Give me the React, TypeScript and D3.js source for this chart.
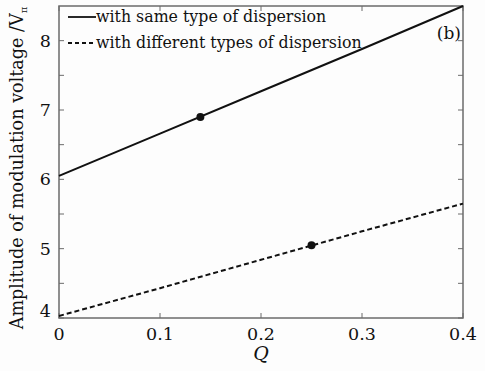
import React from 'react'
import * as d3 from 'd3'

const qValues = [0, 0.1, 0.2, 0.3, 0.4]
const sameType = [6.05, 6.66, 7.27, 7.88, 8.5]
const diffType = [4.03, 4.43, 4.84, 5.25, 5.65]
const markers = [
  {q: 0.14, v: 6.9},
  {q: 0.25, v: 5.05}
]
const xTicks = [0, 0.1, 0.2, 0.3, 0.4]
const yTicks = [4, 5, 6, 7, 8]
const yMinor = [4.5, 5.5, 6.5, 7.5]
const legendLabels = ['with same type of dispersion', 'with different types of dispersion']

const W = 485
const H = 371
const left = 59
const right = 463
const top = 6
const bottom = 318
const font = 'DejaVu Serif, serif'
const axisColor = '#6b6b6b'

function App() {
  const x = d3.scaleLinear().domain([0, 0.4]).range([left, right])
  const y = d3.scaleLinear().domain([4, 8.5]).range([bottom, top])

  const line = d3
    .line<number>()
    .x((d, i) => x(qValues[i]))
    .y(d => y(d))

  return (
    <svg
      width={W}
      height={H}
      style={{position: 'absolute', left: 0, top: 0, background: '#fdfdfd'}}
    >
      <rect x={left} y={top} width={right - left} height={bottom - top} fill="none" stroke={axisColor} strokeWidth={1.5} />
      {xTicks.map(t => (
        <g key={'x' + t}>
          <line x1={x(t)} x2={x(t)} y1={bottom} y2={bottom - 5} stroke={axisColor} />
          <line x1={x(t)} x2={x(t)} y1={top} y2={top + 5} stroke={axisColor} />
          <text x={x(t)} y={bottom + 22} textAnchor="middle" fontFamily={font} fontSize={17.5} fill="#111">
            {t === 0 ? '0' : t.toFixed(1)}
          </text>
        </g>
      ))}
      {yTicks.concat(yMinor).map(t => (
        <g key={'y' + t}>
          <line x1={left} x2={left + 5} y1={y(t)} y2={y(t)} stroke={axisColor} />
          <line x1={right} x2={right - 5} y1={y(t)} y2={y(t)} stroke={axisColor} />
        </g>
      ))}
      {yTicks.map(t => (
        <text
          key={'yl' + t}
          x={left - 8}
          y={t === 4 ? y(t) - 1 : y(t) + 6}
          textAnchor="end"
          fontFamily={font}
          fontSize={17.5}
          fill="#111"
        >
          {t}
        </text>
      ))}
      <path d={line(sameType) || ''} fill="none" stroke="#111" strokeWidth={2} />
      <path d={line(diffType) || ''} fill="none" stroke="#111" strokeWidth={2} strokeDasharray="5,3" />
      {markers.map((m, i) => (
        <circle key={i} cx={x(m.q)} cy={y(m.v)} r={4} fill="#111" />
      ))}
      <line x1={68} x2={96} y1={17} y2={17} stroke="#111" strokeWidth={1.8} />
      <line x1={68} x2={96} y1={43} y2={43} stroke="#111" strokeWidth={1.8} strokeDasharray="4,3" />
      {legendLabels.map((l, i) => (
        <text key={l} x={96} y={22 + i * 26} fontFamily={font} fontSize={15.8} fill="#111">
          {l}
        </text>
      ))}
      <text x={461} y={39} textAnchor="end" fontFamily={font} fontSize={17} fill="#111">
        (b)
      </text>
      <text
        transform={`translate(23, ${(top + bottom) / 2 + 6}) rotate(-90)`}
        textAnchor="middle"
        fontFamily={font}
        fontSize={17.6}
        fill="#111"
      >
        Amplitude of modulation voltage /V
        <tspan fontSize={10} dy={4}>π</tspan>
      </text>
      <text x={x(0.2)} y={360} textAnchor="middle" fontFamily={font} fontStyle="italic" fontSize={19} fill="#111">
        Q
      </text>
    </svg>
  )
}

export default App
